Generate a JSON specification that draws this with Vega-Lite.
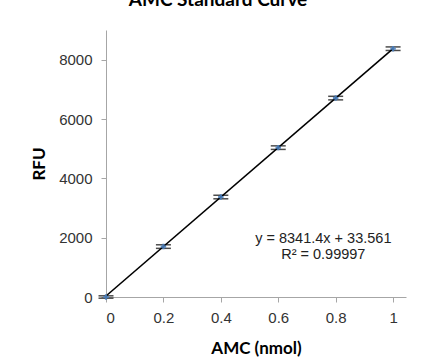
{
  "$schema": "https://vega.github.io/schema/vega-lite/v6.json",
  "width": 300,
  "height": 267,
  "autosize": "none",
  "padding": {"left": 106, "top": 30, "right": 32, "bottom": 66},
  "background": "white",
  "title": {"text": "AMC Standard Curve", "font": "Lato", "fontSize": 19, "fontWeight": "bold", "color": "#000", "offset": 20, "anchor": "middle", "dx": -38},
  "config": {
    "view": {"stroke": null},
    "axis": {"domainColor": "#a6a6a6", "tickColor": "#a6a6a6", "grid": false, "labelFont": "Liberation Sans", "labelFontSize": 15, "labelColor": "#333", "titleFont": "Lato", "titleFontSize": 17, "titleFontWeight": "bold", "titleColor": "#000", "tickSize": 5}
  },
  "datasets": {
    "pts": [
      {"amc": 0, "rfu": 0, "lo": -40, "hi": 40},
      {"amc": 0.2, "rfu": 1700, "lo": 1640, "hi": 1760},
      {"amc": 0.4, "rfu": 3370, "lo": 3310, "hi": 3430},
      {"amc": 0.6, "rfu": 5035, "lo": 4975, "hi": 5095},
      {"amc": 0.8, "rfu": 6705, "lo": 6645, "hi": 6765},
      {"amc": 1, "rfu": 8370, "lo": 8310, "hi": 8430}
    ],
    "fit": [
      {"amc": 0, "rfu": 33.561},
      {"amc": 1, "rfu": 8374.961}
    ]
  },
  "layer": [
    {
      "data": {"name": "fit"},
      "mark": {"type": "line", "color": "#000", "strokeWidth": 1.6},
      "encoding": {
        "x": {"field": "amc", "type": "quantitative", "scale": {"domain": [0, 1.045], "nice": false}, "axis": {"values": [0, 0.2, 0.4, 0.6, 0.8, 1], "format": "~g", "title": "AMC (nmol)", "labelPadding": 8, "titlePadding": 15}},
        "y": {"field": "rfu", "type": "quantitative", "scale": {"domain": [0, 9000], "nice": false}, "axis": {"values": [0, 2000, 4000, 6000, 8000], "format": "d", "title": "RFU", "labelPadding": 9, "titlePadding": 10}}
      }
    },
    {
      "data": {"name": "pts"},
      "mark": {"type": "rule", "color": "#000", "strokeWidth": 1},
      "encoding": {
        "x": {"field": "amc", "type": "quantitative"},
        "y": {"field": "lo", "type": "quantitative"},
        "y2": {"field": "hi"}
      }
    },
    {
      "data": {"name": "pts"},
      "mark": {"type": "tick", "orient": "horizontal", "color": "#000", "size": 15, "thickness": 1.5},
      "encoding": {
        "x": {"field": "amc", "type": "quantitative"},
        "y": {"field": "lo", "type": "quantitative"}
      }
    },
    {
      "data": {"name": "pts"},
      "mark": {"type": "tick", "orient": "horizontal", "color": "#000", "size": 15, "thickness": 1.5},
      "encoding": {
        "x": {"field": "amc", "type": "quantitative"},
        "y": {"field": "hi", "type": "quantitative"}
      }
    },
    {
      "data": {"name": "pts"},
      "mark": {"type": "point", "shape": "cross", "filled": true, "color": "#4a7ebb", "size": 30, "opacity": 0.9},
      "encoding": {
        "x": {"field": "amc", "type": "quantitative"},
        "y": {"field": "rfu", "type": "quantitative"}
      }
    },
    {
      "data": {"values": [{"t": "y = 8341.4x + 33.561", "ax": 0.757, "ry": 1940}, {"t": "R² = 0.99997", "ax": 0.757, "ry": 1420}]},
      "mark": {"type": "text", "font": "Liberation Sans", "fontSize": 14.5, "color": "#222", "align": "center", "baseline": "middle"},
      "encoding": {
        "x": {"field": "ax", "type": "quantitative"},
        "y": {"field": "ry", "type": "quantitative"},
        "text": {"field": "t"}
      }
    }
  ]
}
